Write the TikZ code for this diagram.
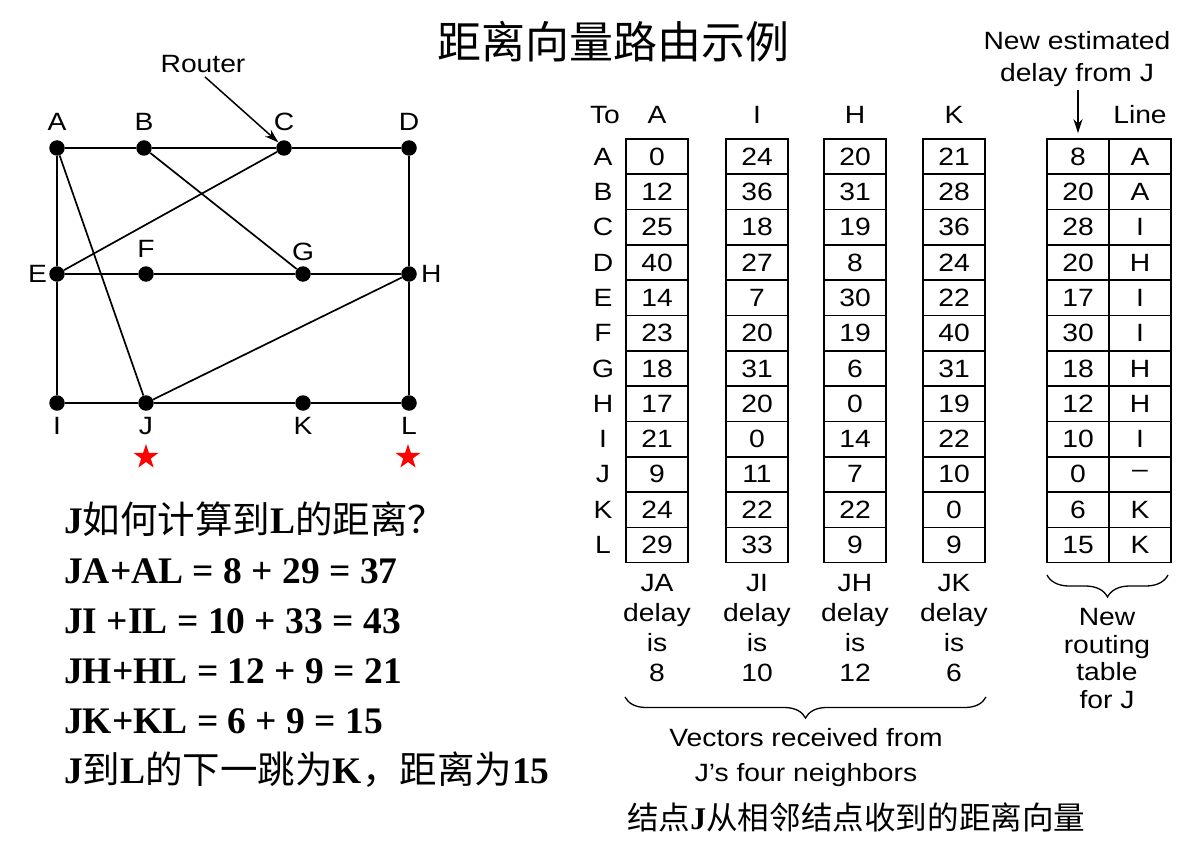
\documentclass[tikz,border=0pt]{standalone}
\usepackage{fontspec}
\setmainfont{Liberation Serif}
\setsansfont{Liberation Sans}[FakeStretch=1.13]
\newfontfamily\cjk{Noto Sans CJK SC}
\usetikzlibrary{arrows.meta,positioning,calc,shapes.geometric,decorations.pathreplacing}
\newcommand{\zh}[1]{{\cjk\mdseries #1}}

\begin{document}
\begin{tikzpicture}[x=1pt,y=-1pt,>={Stealth[length=14pt,width=9pt]},
  every node/.style={font=\sffamily\fontsize{25}{30}\selectfont,inner sep=0pt},
  router/.style={circle,fill=black,minimum size=15.5pt},
  link/.style={line width=1.7pt},
  cell/.style={draw,line width=1.6pt,minimum width=62pt,minimum height=35.3pt},
  note/.style={font=\rmfamily\bfseries\fontsize{37.5}{44}\selectfont,anchor=base west},
  curly/.style={line width=1.3pt,decorate,decoration={brace,amplitude=21pt}}]
\useasboundingbox (0,0) rectangle (1197,848);

\node[font=\cjk\fontsize{44}{50}\selectfont] (title) at (613,42) {距离向量路由示例};

\node[router,label={[label distance=9pt]above:A}] (A) at (57,148) {};
\node[router,label={[label distance=9pt]above:B}] (B) at (144,148) {};
\node[router,label={[label distance=9pt]above:C}] (C) at (284,148) {};
\node[router,label={[label distance=9pt]above:D}] (D) at (409,148) {};
\node[router,label={[label distance=2pt]left:E}] (E) at (57,274) {};
\node[router,label={[label distance=8pt]above:F}] (F) at (146,274) {};
\node[router,label={[label distance=5pt]above:G}] (G) at (303,274) {};
\node[router,label={[label distance=4pt]right:H}] (H) at (409,274) {};
\node[router,label={[label distance=6pt]below:I}] (I) at (57,403) {};
\node[router,label={[label distance=6pt]below:J}] (J) at (146,403) {};
\node[router,label={[label distance=6pt]below:K}] (K) at (303,403) {};
\node[router,label={[label distance=6pt]below:L}] (L) at (409,403) {};
\foreach \u/\v in {A/B,B/C,C/D,A/E,E/I,D/H,H/L,E/F,F/G,G/H,I/J,J/K,K/L,A/J,C/E,B/G,J/H}
  \draw[link] (\u) -- (\v);

\node (rtr) at (203,64) {Router};
\draw[->,line width=1.5pt] ([xshift=2pt,yshift=-4pt]rtr.south) -- (C.north west);

\node[star,star points=5,star point ratio=2.6,fill=red,minimum size=26pt] (sJ) at (146,457) {};
\node[star,star points=5,star point ratio=2.6,fill=red,minimum size=26pt] (sL) at (408,457) {};

\node[note] (q) at (64,533) {J\zh{如何计算到}L\zh{的距离？}};
\node[note] (ja) at (64,583) {JA+AL = 8 + 29 = 37};
\node[note] (ji) at (64,633) {JI +IL = 10 + 33 = 43};
\node[note] (jh) at (64,683) {JH+HL = 12 + 9 = 21};
\node[note] (jk) at (64,733) {JK+KL = 6 + 9 = 15};
\node[note] (ans) at (64,783) {J\zh{到}L\zh{的下一跳为}K\zh{，距离为}15};

\node (to) at (605,115) {To};
\foreach \h/\x in {A/657,I/757,H/855,K/954}
  \node (h\h) at (\x,115) {\h};
\node (hLine) at (1140,115) {Line};
\foreach \r [count=\i] in {A,...,L}
  \node (r\r) at (603,{139+35.3*(\i-0.5)}) {\r};

\foreach \c/\x/\vals in {a/657/{0,12,25,40,14,23,18,17,21,9,24,29},
    i/757/{24,36,18,27,7,20,31,20,0,11,22,33},
    h/855/{20,31,19,8,30,19,6,0,14,7,22,9},
    k/954/{21,28,36,24,22,40,31,19,22,10,0,9},
    n/1078/{8,20,28,20,17,30,18,12,10,0,6,15},
    l/1140/{A,A,I,H,I,I,H,H,I,--,K,K}}
  \foreach \v [count=\i] in \vals
    \node[cell] (\c\i) at (\x,{139+35.3*(\i-0.5)}) {\v};

\node[align=center,font=\sffamily\fontsize{25}{32}\selectfont] (est) at (1077,59) {New estimated\\delay from J};
\draw[->,line width=1.3pt,shorten >=5pt] (est.south -| n1.north) ++(0,3) -- (n1.north);

\foreach \x/\n/\d in {657/JA/8,757/JI/10,855/JH/12,954/JK/6}
  \node[align=center,anchor=north] (d\n) at (\x,574) {\n\\delay\\is\\\d};

\coordinate (bl) at (625,697);
\coordinate (br) at (986,697);
\draw[curly] (br) -- (bl);
\node[align=center,anchor=north,font=\sffamily\fontsize{25}{35}\selectfont] (vec) at (806,728) {Vectors received from\\J's four neighbors};

\coordinate (nl) at (1047,575);
\coordinate (nr) at (1168,575);
\draw[curly,decoration={amplitude=22pt}] (nr) -- (nl);
\node[align=center,anchor=north,font=\sffamily\fontsize{25}{27.7}\selectfont] (tbl) at (1107,608) {New\\routing\\table\\for J};

\node[anchor=west,font=\cjk\fontsize{31.6}{40}\selectfont] (cap) at (627,817) {结点\textrm{\bfseries J}从相邻结点收到的距离向量};
\end{tikzpicture}
\end{document}
